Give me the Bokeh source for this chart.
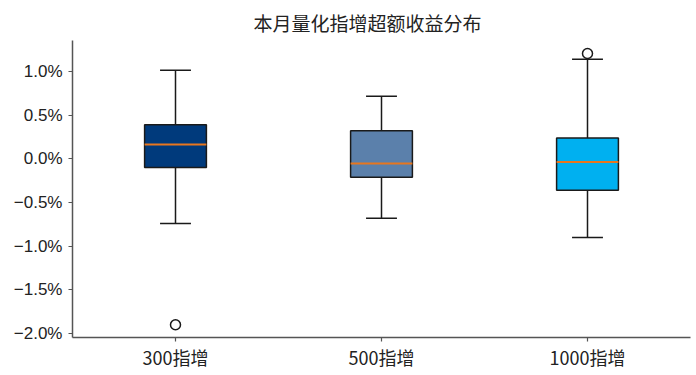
from bokeh.plotting import figure
from bokeh.models import Range1d, FixedTicker, CustomJSTickFormatter, ColumnDataSource
from bokeh.embed import file_html
from bokeh.resources import INLINE

title = "本月量化指增超额收益分布"
categories = ["300指增", "500指增", "1000指增"]
whisker_low = [-0.74, -0.68, -0.90]
q1 = [-0.10, -0.21, -0.36]
median = [0.165, -0.054, -0.035]
q3 = [0.39, 0.322, 0.24]
whisker_high = [1.015, 0.716, 1.14]
outlier_cat = [0, 2]
outlier_val = [-1.90, 1.207]
box_colors = ["#003a7c", "#5b80ab", "#00b0f0"]
y_ticks = [-2.0, -1.5, -1.0, -0.5, 0.0, 0.5, 1.0]

xs = [i + 1 for i in range(len(categories))]
box_w = 0.3
cap_w = 0.15

p = figure(width=696, height=375, output_backend="svg", toolbar_location=None,
           x_range=Range1d(0.5, 3.5), y_range=Range1d(-2.046, 1.356),
           min_border_left=72, min_border_right=6, min_border_top=40, min_border_bottom=38)
p.title.text = title
p.title.align = "left"
p.title.offset = 181
p.title.text_font = "Noto Sans CJK SC"
p.title.text_font_size = "19px"
p.title.text_font_style = "normal"
p.title.text_color = "#222222"
p.title.standoff = 9

p.outline_line_color = None
p.grid.visible = False
p.background_fill_color = "white"

src = ColumnDataSource(dict(x=xs, lo=whisker_low, q1=q1, med=median, q3=q3, hi=whisker_high,
                            color=box_colors,
                            cl=[x - cap_w / 2 for x in xs], cr=[x + cap_w / 2 for x in xs],
                            bl=[x - box_w / 2 for x in xs], br=[x + box_w / 2 for x in xs]))

p.segment(x0="x", y0="q3", x1="x", y1="hi", source=src, line_color="#1a1a1a", line_width=1.5)
p.segment(x0="x", y0="lo", x1="x", y1="q1", source=src, line_color="#1a1a1a", line_width=1.5)
p.segment(x0="cl", y0="hi", x1="cr", y1="hi", source=src, line_color="#1a1a1a", line_width=1.5)
p.segment(x0="cl", y0="lo", x1="cr", y1="lo", source=src, line_color="#1a1a1a", line_width=1.5)
p.vbar(x="x", width=box_w, bottom="q1", top="q3", source=src, fill_color="color",
       line_color="#1a1a1a", line_width=1.5)
p.segment(x0="bl", y0="med", x1="br", y1="med", source=src, line_color="#e8761e", line_width=2)
p.scatter([xs[i] for i in outlier_cat], outlier_val, size=10, marker="circle",
          fill_color="white", line_color="#1a1a1a", line_width=1.5)

p.xaxis.ticker = FixedTicker(ticks=xs)
p.xaxis.major_label_overrides = {x: c for x, c in zip(xs, categories)}
p.yaxis.ticker = FixedTicker(ticks=y_ticks)
p.yaxis.formatter = CustomJSTickFormatter(code="return tick.toFixed(1).replace('-', '\u2212') + '%';")

for ax in (p.xaxis[0], p.yaxis[0]):
    ax.axis_line_color = "#555555"
    ax.axis_line_width = 1.5
    ax.major_tick_line_color = "#555555"
    ax.major_tick_line_width = 1.2
    ax.major_tick_out = 4
    ax.major_tick_in = 0
    ax.minor_tick_line_color = None
    ax.major_label_text_color = "#222222"

p.xaxis.major_label_text_font = "Noto Sans CJK SC"
p.xaxis.major_label_text_font_size = "18px"
p.xaxis.major_label_standoff = 2
p.yaxis.major_label_text_font = "Liberation Sans"
p.yaxis.major_label_text_font_size = "17px"
p.yaxis.major_label_standoff = 6

open("out.html", "w").write(file_html(p, INLINE))
